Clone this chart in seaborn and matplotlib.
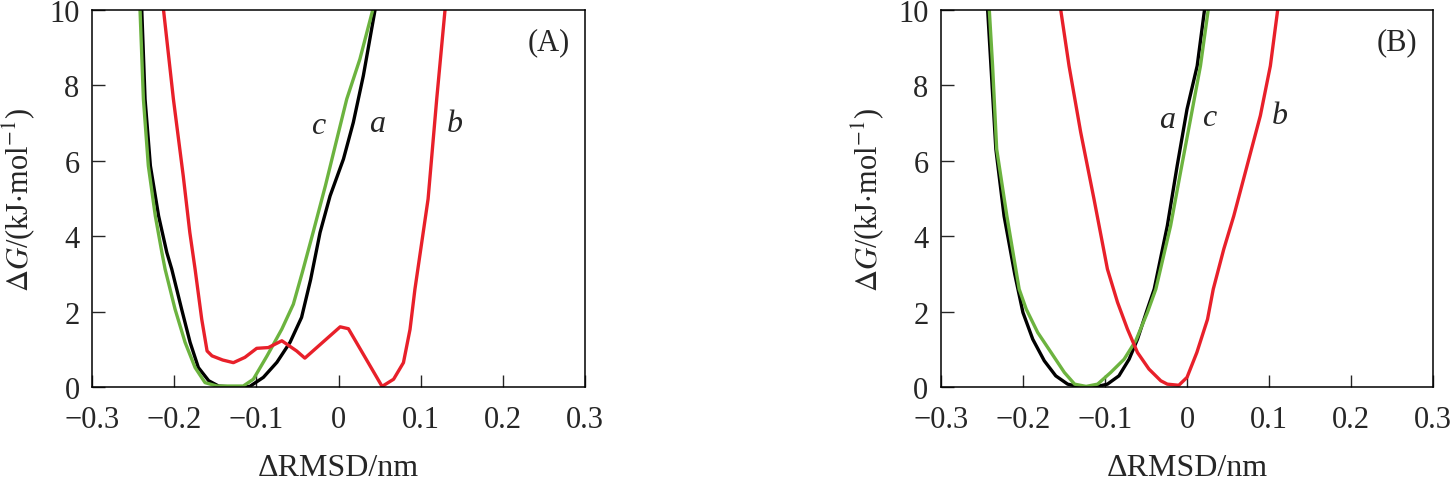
import pandas as pd
import matplotlib
matplotlib.use("Agg")
import matplotlib.pyplot as plt
import matplotlib.ticker as mticker
import seaborn as sns

# panel A curves (a = black, c = green, b = red)
A_a_x = [-0.2395, -0.2355, -0.229, -0.219, -0.209, -0.203, -0.191, -0.1807, -0.1706, -0.158, -0.146, -0.127,
         -0.108, -0.0915, -0.075, -0.059, -0.045, -0.034, -0.0225, -0.0103, 0.006, 0.018, 0.0302, 0.0444]
A_a_y = [10, 7.64, 5.87, 4.54, 3.57, 3.13, 2.07, 1.19, 0.52, 0.17, 0.03, 0.0,
         0.02, 0.26, 0.66, 1.19, 1.85, 2.85, 4.1, 5.07, 6.05, 7.02, 8.26, 10]
A_c_x = [-0.2416, -0.2375, -0.2315, -0.223, -0.215, -0.2111, -0.199, -0.1868, -0.1746, -0.1625, -0.148, -0.132,
         -0.116, -0.1037, -0.087, -0.069, -0.055, -0.044, -0.031, -0.016, -0.002, 0.010, 0.026, 0.0416]
A_c_y = [10, 7.64, 5.87, 4.54, 3.57, 3.13, 2.07, 1.19, 0.52, 0.12, 0.03, 0.03,
         0.03, 0.21, 0.83, 1.54, 2.2, 3.05, 4.1, 5.34, 6.58, 7.64, 8.7, 10]
A_b_x = [-0.213, -0.201, -0.189, -0.181, -0.1746, -0.1665, -0.160, -0.154, -0.141, -0.128, -0.114, -0.0996,
         -0.0854, -0.069, -0.051, -0.041, 0.002, 0.012, 0.053, 0.067, 0.079, 0.087, 0.093, 0.109, 0.1195, 0.1296]
A_b_y = [10, 7.64, 5.6, 4.1, 3.13, 1.8, 0.96, 0.83, 0.72, 0.65, 0.79, 1.03,
         1.05, 1.23, 0.96, 0.77, 1.6, 1.55, 0.02, 0.21, 0.65, 1.53, 2.6, 4.99, 7.64, 10]

# panel B curves
B_a_x = [-0.243, -0.239, -0.233, -0.223, -0.210, -0.200, -0.188, -0.174, -0.160, -0.1455, -0.133, -0.121,
         -0.109, -0.097, -0.083, -0.0706, -0.0604, -0.0483, -0.040, -0.024, -0.012, 0.000, 0.0124, 0.0213]
B_a_y = [10, 8.52, 6.31, 4.54, 3.0, 1.98, 1.27, 0.7, 0.3, 0.08, 0.02, 0.0,
         0.02, 0.08, 0.3, 0.74, 1.27, 2.07, 2.6, 4.28, 5.87, 7.37, 8.52, 10]
B_c_x = [-0.241, -0.237, -0.232, -0.2196, -0.2046, -0.196, -0.182, -0.1657, -0.1495, -0.137, -0.123, -0.109,
         -0.093, -0.0767, -0.0625, -0.0483, -0.038, -0.020, -0.008, 0.0043, 0.0164, 0.0258]
B_c_y = [10, 8.52, 6.31, 4.54, 2.6, 2.07, 1.45, 0.92, 0.39, 0.08, 0.02, 0.08,
         0.39, 0.74, 1.23, 1.98, 2.6, 4.28, 5.69, 7.11, 8.52, 10]
B_b_x = [-0.1539, -0.1438, -0.1296, -0.1134, -0.097, -0.0847, -0.0726, -0.0604, -0.0464, -0.032, -0.024, -0.010,
         0.000, 0.012, 0.025, 0.032, 0.0448, 0.057, 0.0732, 0.0894, 0.1016, 0.1105]
B_b_y = [10, 8.52, 6.76, 4.99, 3.13, 2.25, 1.54, 0.92, 0.48, 0.17, 0.08, 0.05,
         0.26, 0.92, 1.8, 2.6, 3.66, 4.54, 5.87, 7.2, 8.52, 10]

x_ticks = [-0.3, -0.2, -0.1, 0, 0.1, 0.2, 0.3]
y_ticks = [0, 2, 4, 6, 8, 10]
colors = {"a": "black", "c": "#6cb33f", "b": "#e8202a"}

sns.set_style("ticks")
plt.rcParams["font.family"] = ["Liberation Serif", "DejaVu Serif"]
plt.rcParams["mathtext.fontset"] = "stix"


def make_df(curves):
    frames = []
    for name, xs, ys in curves:
        frames.append(pd.DataFrame({"x": xs, "y": ys, "curve": name}))
    return pd.concat(frames, ignore_index=True)


df_A = make_df([("a", A_a_x, A_a_y), ("c", A_c_x, A_c_y), ("b", A_b_x, A_b_y)])
df_B = make_df([("a", B_a_x, B_a_y), ("c", B_c_x, B_c_y), ("b", B_b_x, B_b_y)])

fig = plt.figure(figsize=(14.52, 4.81), dpi=100)
ax1 = fig.add_axes([0.0634, 0.193, 0.3395, 0.784])
ax2 = fig.add_axes([0.648, 0.193, 0.339, 0.784])

fmt = mticker.FuncFormatter(lambda v, p: "0" if abs(v) < 1e-9 else f"{v:g}".replace("-", "\u2212"))

panels = [
    (ax1, df_A, "(A)", [("c", -0.025, 6.93), ("a", 0.0465, 6.98), ("b", 0.142, 7.0)]),
    (ax2, df_B, "(B)", [("a", -0.024, 7.11), ("c", 0.0265, 7.15), ("b", 0.1137, 7.2)]),
]

for ax, df, tag, labels in panels:
    sns.lineplot(data=df, x="x", y="y", hue="curve", hue_order=["a", "c", "b"],
                 palette=colors, sort=False, estimator=None, units="curve",
                 legend=False, linewidth=2.4, solid_joinstyle="round", ax=ax)
    ax.set_xlim(-0.3, 0.3)
    ax.set_ylim(0, 10)
    ax.set_xticks(x_ticks)
    ax.set_yticks(y_ticks)
    ax.xaxis.set_major_formatter(fmt)
    ax.yaxis.set_major_formatter(fmt)
    ax.tick_params(direction="in", length=9, width=1, labelsize=22)
    ax.tick_params(axis="x", pad=13)
    ax.tick_params(axis="y", pad=9)
    for sp in ax.spines.values():
        sp.set_linewidth(1.1)
        sp.set_color("black")
    ax.set_xlabel("\u0394RMSD/nm", fontsize=23)
    ax.set_ylabel(r"$\Delta G$/(kJ$\cdot$mol$^{-1}$)", fontsize=22)
    ax.xaxis.set_label_coords(0.5, -0.175)
    ax.yaxis.set_label_coords(-0.112, 0.5)
    ax.text(0.256, 9.15, tag, fontsize=22, ha="center", va="center")
    for lab, xpos, ypos in labels:
        ax.text(xpos, ypos, lab, fontsize=23, style="italic", ha="center", va="center")

fig.savefig("out.png", dpi=100)
